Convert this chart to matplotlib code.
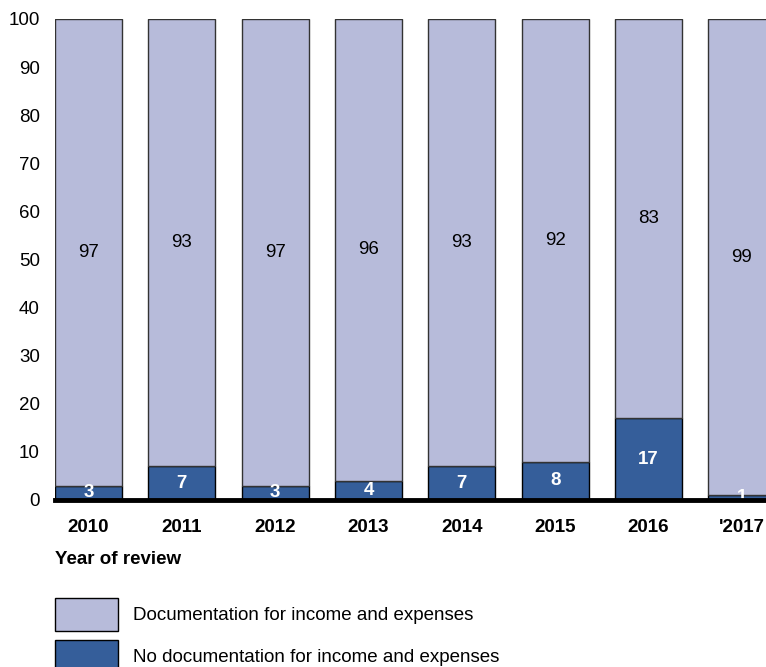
import matplotlib.pyplot as plt
from matplotlib.patches import Rectangle

plt.rcParams['font.family'] = ['Liberation Sans', 'DejaVu Sans']

years = ['2010', '2011', '2012', '2013', '2014', '2015', '2016', "'2017"]
no_doc = [3, 7, 3, 4, 7, 8, 17, 1]
with_doc = [97, 93, 97, 96, 93, 92, 83, 99]

light = '#B7BBDA'
dark = '#355E9A'
fs = 13.5

fig = plt.figure(figsize=(7.66, 6.67), dpi=100)
ax = fig.add_axes([55 / 766, 1 - 500 / 667, 711 / 766, 481 / 667])

x = range(len(years))
w = 0.72
ax.bar(x, no_doc, width=w, color=dark, edgecolor='black', linewidth=1)
ax.bar(x, with_doc, width=w, bottom=no_doc, color=light, edgecolor='#333333', linewidth=1)

for i in x:
    ax.text(i, no_doc[i] / 2, str(no_doc[i]), ha='center', va='center',
            color='white', fontsize=fs, fontweight='bold')
    ax.text(i, no_doc[i] + with_doc[i] / 2, str(with_doc[i]), ha='center', va='center',
            color='black', fontsize=fs)

ax.set_xlim(-0.36, 7.26)
ax.set_ylim(0, 100)
ax.set_yticks(range(0, 101, 10))
ax.set_xticks(list(x))
ax.set_xticklabels(years, fontweight='bold')
ax.tick_params(axis='both', length=0, labelsize=fs)
ax.tick_params(axis='x', pad=14)
ax.tick_params(axis='y', pad=11)
for s in ['top', 'right', 'left']:
    ax.spines[s].set_visible(False)
ax.spines['bottom'].set_linewidth(3.5)
ax.spines['bottom'].set_color('black')
ax.spines['bottom'].set_zorder(5)

fig.text(55 / 766, 1 - 560 / 667, 'Year of review', fontsize=fs, fontweight='bold',
         va='center', ha='left')

# legend drawn by hand below the plot
legend_items = [(light, 'Documentation for income and expenses'),
                (dark, 'No documentation for income and expenses')]
for k, (c, lab) in enumerate(legend_items):
    top = 598 + k * 42
    fig.patches.append(Rectangle((55 / 766, 1 - (top + 33) / 667), 63 / 766, 33 / 667,
                                 transform=fig.transFigure, facecolor=c,
                                 edgecolor='black', linewidth=1))
    fig.text(133 / 766, 1 - (top + 17) / 667, lab, fontsize=fs, va='center', ha='left')

fig.savefig('out.png', dpi=100)
